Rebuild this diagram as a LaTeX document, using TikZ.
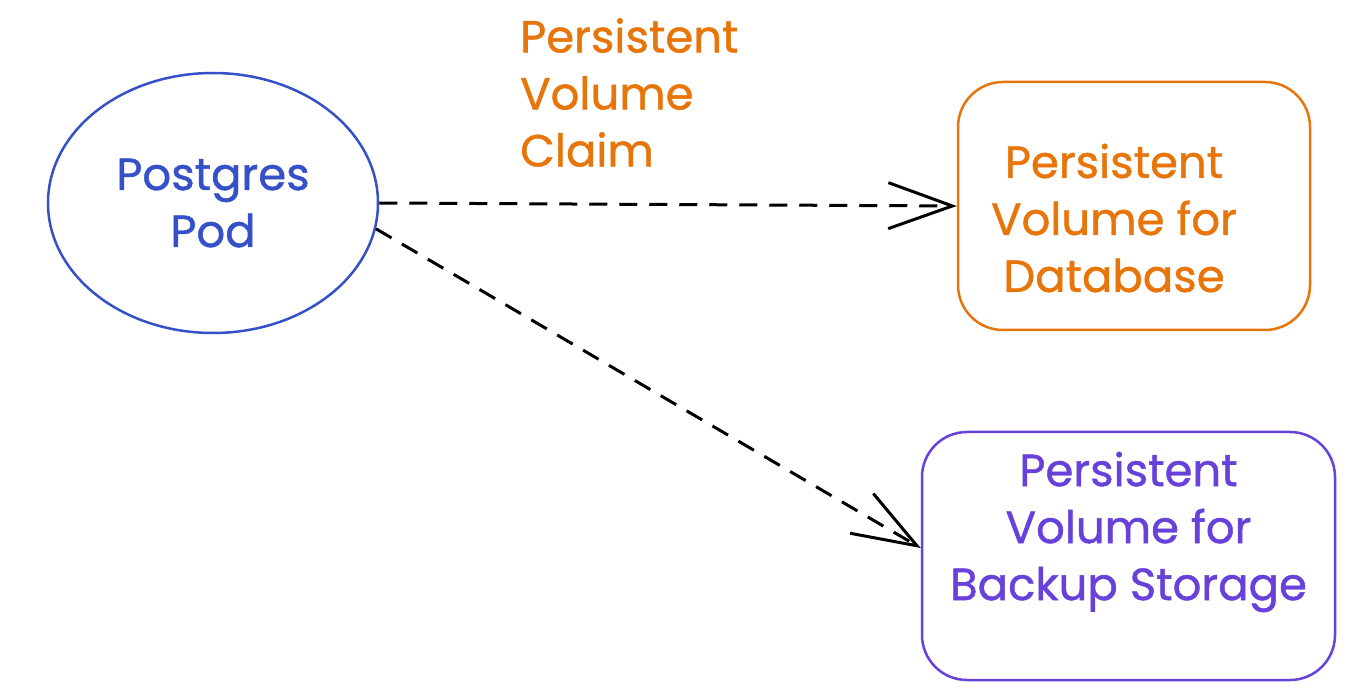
\documentclass[tikz,border=0pt]{standalone}
\usepackage{fontspec}
\setmainfont{Poppins}[FakeBold=1]
\usetikzlibrary{shapes.geometric, arrows.meta, positioning}
\definecolor{podblue}{RGB}{53, 80, 200}
\definecolor{dborange}{RGB}{232, 117, 10}
\definecolor{bkpurple}{RGB}{103, 65, 217}

\begin{document}
\begin{tikzpicture}[
    x=1pt, y=-1pt,
    font=\fontsize{45}{57}\selectfont,
    pod/.style={ellipse, draw=podblue, text=podblue, line width=2.5pt,
                minimum width=330pt, minimum height=260pt, align=center},
    vol/.style={rectangle, rounded corners=45pt, line width=2.5pt,
                minimum height=248pt},
    dbvol/.style={vol, draw=dborange, minimum width=352pt},
    bkvol/.style={vol, draw=bkpurple, minimum width=413pt},
    voltext/.style={align=center, inner sep=0pt},
    claimlabel/.style={text=dborange, align=left, inner sep=0pt},
    arr/.style={-{Straight Barb[length=64pt, width=46pt, line width=3pt]},
                line width=3pt, dash pattern=on 18pt off 12pt}
]
\useasboundingbox (0,0) rectangle (1366,692);

% =========== pod and its volumes ===========
\node[pod]   (pod)    at (213,203)    {Postgres\\Pod};
\node[dbvol] (db)     at (1134,206)   {};
\node[bkvol] (backup) at (1128.5,556) {};

\node[voltext, text=dborange] (dbtext) at ([xshift=-20pt, yshift=-12pt]db.center)
    {Persistent\\Volume for\\Database};
\node[voltext, text=bkpurple] (bktext) at ([yshift=24pt]backup.center)
    {Persistent\\Volume for\\Backup Storage};

\node[claimlabel, anchor=north west] (claim) at (520,18)
    {Persistent\\Volume\\Claim};

% =========== claims ===========
\draw[arr] (pod.east) -- (db.west);
\draw[arr] (pod.-9)   -- ([yshift=8pt]backup.west);

\end{tikzpicture}
\end{document}
